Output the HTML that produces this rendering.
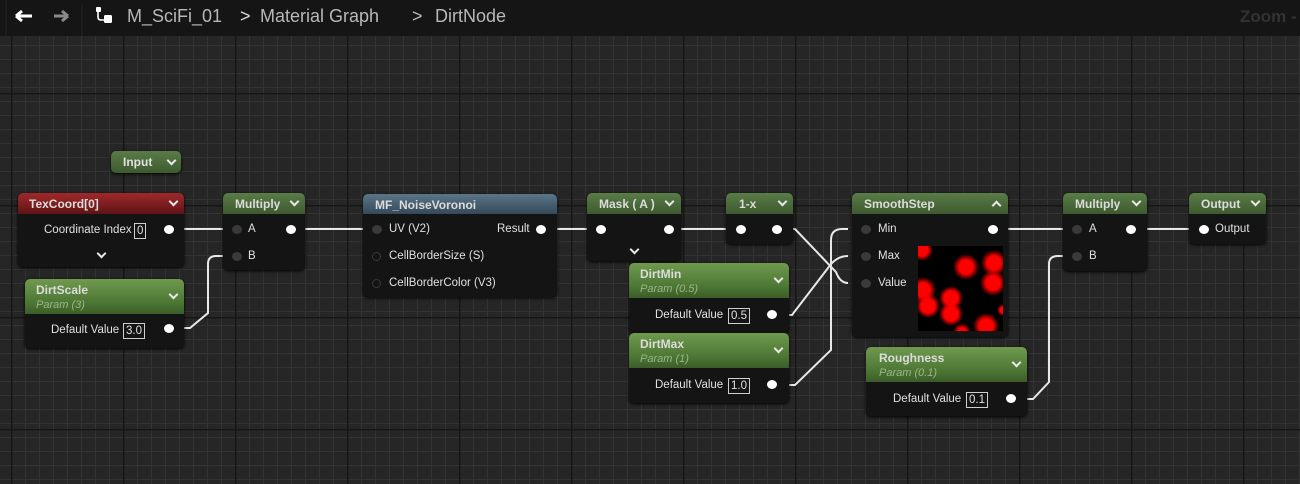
<!DOCTYPE html>
<html><head><meta charset="utf-8"><style>
body{margin:0;width:1300px;height:484px;overflow:hidden;background:#262626;font-family:"Liberation Sans",sans-serif;}
#bg{position:absolute;left:0;top:36px;width:1300px;height:448px;
background-image:
linear-gradient(to right,#161616 1.5px,transparent 1.5px),
linear-gradient(to bottom,#161616 1.5px,transparent 1.5px),
linear-gradient(to right,#333 1px,transparent 1px),
linear-gradient(to bottom,#333 1px,transparent 1px);
background-size:112px 112px,112px 112px,14px 14px,14px 14px;
background-position:11px 57px,11px 57px,11px 9px,11px 9px;}
#top{position:absolute;left:0;top:0;width:1300px;height:36px;background:#151515;}
.n{position:absolute;background:#141414;border-radius:5px;box-shadow:0 1px 3px #000;color:#e0e0e0;font-size:11.5px;}
.h{position:absolute;left:0;top:0;right:0;border-radius:5px 5px 0 0;font-weight:bold;font-size:12px;color:#dcdcdc;}
.g{background:linear-gradient(to bottom,#5a7c47,#3d5a2f);}
.g2{background:linear-gradient(to bottom,#6f9a4e,#4b7533 70%,#3b5c28);}
.t{position:absolute;white-space:nowrap;}
.pin{position:absolute;width:10px;height:9px;border-radius:50%;background:#fff;}
.pd{position:absolute;width:10px;height:9px;border-radius:50%;background:#3a3a3a;}
.po{position:absolute;width:7px;height:7px;border-radius:50%;border:1px solid #3a3a3a;}
.box{position:absolute;border:1px solid #cfcfcf;padding:0 2px;font-size:11.5px;line-height:14px;}
.chev{position:absolute;width:5px;height:5px;border-right:2px solid #e8e8e8;border-bottom:2px solid #e8e8e8;transform:rotate(45deg);}
.sub{font-weight:normal;font-style:italic;color:#9cb48a;font-size:11px;}
.bc{position:absolute;top:6px;font-size:18px;color:#b8b8b8;white-space:nowrap;}
</style></head><body>
<div id="bg"></div>
<div id="top">
<svg width="1300" height="36" style="position:absolute;left:0;top:0">
<path d="M16 16 h16 M16 16 l6 -5 M16 16 l6 5" stroke="#fff" stroke-width="3" fill="none"/>
<path d="M54 16 h14 M68 16 l-6 -5 M68 16 l-6 5" stroke="#8a8a8a" stroke-width="3" fill="none"/>
<rect x="96" y="7" width="5" height="5" rx="1" fill="#fff"/><path d="M98 12 v5 q0 3 3 3 h3" stroke="#fff" stroke-width="1.6" fill="none"/><rect x="104" y="15" width="8" height="8" rx="1.5" fill="#fff"/>
<line x1="82" y1="4" x2="82" y2="36" stroke="#222" /><line x1="6" y1="0" x2="6" y2="36" stroke="#222"/>
</svg>
<div class="bc" style="left:127px">M_SciFi_01</div>
<div class="bc" style="left:240px;color:#ddd">&gt;</div>
<div class="bc" style="left:260px">Material Graph</div>
<div class="bc" style="left:412px">&gt;</div>
<div class="bc" style="left:435px">DirtNode</div>
<div class="t" style="left:1240px;top:7px;font-size:17px;font-weight:bold;color:#333">Zoom -</div>
</div>

<svg width="1300" height="484" style="position:absolute;left:0;top:0" fill="none" stroke="#e8e8e8" stroke-width="2">
<path d="M172 229 H235"/>
<path d="M172 328 H190 L208 313 V264 Q208 256 216 256 H235"/>
<path d="M294 229 H375"/>
<path d="M544 229 H598"/>
<path d="M668 229 H738"/>
<path d="M780 229 H795 L836 272 Q840 283 848 283"/>
<path d="M775 315 H792 L828 268 Q836 256 848 256"/>
<path d="M775 385 H795 L831 350 V240 Q831 229 842 229 H848"/>
<path d="M995 229 H1075"/>
<path d="M1012 399 H1033 L1049 382 V264 Q1049 256 1058 256 H1075"/>
<path d="M1133 229 H1203"/>
</svg>

<!-- Input -->
<div class="n g" style="left:111px;top:151px;width:70px;height:22px;background:linear-gradient(#5a7c47,#3d5a2f)"><div class="t" style="left:12px;top:4px;font-weight:bold;font-size:12px">Input</div><div class="chev" style="left:57px;top:6px"></div></div>

<!-- TexCoord -->
<div class="n" style="left:18px;top:193px;width:166px;height:74px">
<div class="h" style="height:21px;background:linear-gradient(#a0282a,#5e1416)"><div class="t" style="left:11px;top:4px">TexCoord[0]</div><div class="chev" style="left:152px;top:5px"></div></div>
<div class="t" style="left:26px;top:31px">Coordinate Index</div><div class="box" style="left:116px;top:30px">0</div>
<div class="pin" style="left:146px;top:32px"></div>
<div class="chev" style="left:80px;top:57px"></div>
</div>

<!-- DirtScale -->
<div class="n" style="left:25px;top:279px;width:159px;height:69px">
<div class="h g2" style="height:35px"><div class="t" style="left:11px;top:4px">DirtScale<br><span class="sub">Param (3)</span></div><div class="chev" style="left:145px;top:12px"></div></div>
<div class="t" style="left:26px;top:45px">Default Value</div><div class="box" style="left:98px;top:44px">3.0</div>
<div class="pin" style="left:139px;top:45px"></div>
</div>

<!-- Multiply 1 -->
<div class="n" style="left:223px;top:193px;width:82px;height:77px">
<div class="h g" style="height:21px"><div class="t" style="left:12px;top:4px">Multiply</div><div class="chev" style="left:68px;top:5px"></div></div>
<div class="pd" style="left:9px;top:32px"></div><div class="t" style="left:25px;top:30px">A</div>
<div class="pd" style="left:9px;top:59px"></div><div class="t" style="left:25px;top:57px">B</div>
<div class="pin" style="left:63px;top:32px"></div>
</div>

<!-- MF_NoiseVoronoi -->
<div class="n" style="left:363px;top:194px;width:194px;height:103px">
<div class="h" style="height:20px;background:linear-gradient(#5b7688,#34495a)"><div class="t" style="left:12px;top:4px">MF_NoiseVoronoi</div></div>
<div class="pd" style="left:9px;top:31px"></div><div class="t" style="left:26px;top:29px">UV (V2)</div>
<div class="po" style="left:9px;top:58px"></div><div class="t" style="left:26px;top:56px">CellBorderSize (S)</div>
<div class="po" style="left:9px;top:85px"></div><div class="t" style="left:26px;top:83px">CellBorderColor (V3)</div>
<div class="t" style="left:134px;top:29px">Result</div><div class="pin" style="left:173px;top:31px"></div>
</div>

<!-- Mask -->
<div class="n" style="left:587px;top:193px;width:94px;height:68px">
<div class="h g" style="height:21px"><div class="t" style="left:12px;top:4px">Mask ( A )</div><div class="chev" style="left:79px;top:5px"></div></div>
<div class="pin" style="left:9px;top:32px"></div><div class="pin" style="left:77px;top:32px"></div>
<div class="chev" style="left:44px;top:53px"></div>
</div>

<!-- 1-x -->
<div class="n" style="left:726px;top:193px;width:67px;height:51px">
<div class="h g" style="height:21px"><div class="t" style="left:13px;top:4px">1-x</div><div class="chev" style="left:53px;top:5px"></div></div>
<div class="pin" style="left:10px;top:32px"></div><div class="pin" style="left:46px;top:32px"></div>
</div>

<!-- DirtMin -->
<div class="n" style="left:629px;top:263px;width:160px;height:70px">
<div class="h g2" style="height:35px"><div class="t" style="left:11px;top:4px">DirtMin<br><span class="sub">Param (0.5)</span></div><div class="chev" style="left:146px;top:12px"></div></div>
<div class="t" style="left:26px;top:46px">Default Value</div><div class="box" style="left:99px;top:45px">0.5</div>
<div class="pin" style="left:138px;top:47px"></div>
</div>

<!-- DirtMax -->
<div class="n" style="left:629px;top:333px;width:160px;height:70px">
<div class="h g2" style="height:35px"><div class="t" style="left:11px;top:4px">DirtMax<br><span class="sub">Param (1)</span></div><div class="chev" style="left:146px;top:12px"></div></div>
<div class="t" style="left:26px;top:46px">Default Value</div><div class="box" style="left:99px;top:45px">1.0</div>
<div class="pin" style="left:138px;top:47px"></div>
</div>

<!-- SmoothStep -->
<div class="n" style="left:852px;top:193px;width:156px;height:144px">
<div class="h g" style="height:21px"><div class="t" style="left:12px;top:4px">SmoothStep</div><div class="chev" style="left:141px;top:9px;transform:rotate(-135deg)"></div></div>
<div class="pd" style="left:9px;top:32px"></div><div class="t" style="left:26px;top:30px">Min</div>
<div class="pd" style="left:9px;top:59px"></div><div class="t" style="left:26px;top:57px">Max</div>
<div class="pd" style="left:9px;top:86px"></div><div class="t" style="left:26px;top:84px">Value</div>
<div class="pin" style="left:136px;top:32px"></div>
<div style="position:absolute;left:66px;top:53px;width:85px;height:85px;background:
radial-gradient(circle at 4px 4px,#f00 6px,transparent 11px),
radial-gradient(circle at 48px 21px,#f00 7px,transparent 13px),
radial-gradient(circle at 76px 17px,#f00 7px,transparent 13px),
radial-gradient(circle at 75px 37px,#f00 7px,transparent 13px),
radial-gradient(circle at 5px 44px,#f00 7px,transparent 13px),
radial-gradient(circle at 10px 60px,#f00 7px,transparent 12px),
radial-gradient(circle at 33px 52px,#f00 7px,transparent 12px),
radial-gradient(circle at 33px 68px,#f00 7px,transparent 12px),
radial-gradient(circle at 68px 80px,#f00 7px,transparent 13px),
radial-gradient(circle at 85px 64px,#f00 3px,transparent 6px),
radial-gradient(circle at 44px 86px,#f00 4px,transparent 9px),#000"></div>
</div>

<!-- Roughness -->
<div class="n" style="left:866px;top:347px;width:161px;height:69px">
<div class="h g2" style="height:35px"><div class="t" style="left:13px;top:4px">Roughness<br><span class="sub">Param (0.1)</span></div><div class="chev" style="left:147px;top:12px"></div></div>
<div class="t" style="left:27px;top:46px">Default Value</div><div class="box" style="left:100px;top:45px">0.1</div>
<div class="pin" style="left:140px;top:47px"></div>
</div>

<!-- Multiply 2 -->
<div class="n" style="left:1063px;top:193px;width:84px;height:78px">
<div class="h g" style="height:21px"><div class="t" style="left:12px;top:4px">Multiply</div><div class="chev" style="left:70px;top:5px"></div></div>
<div class="pd" style="left:9px;top:32px"></div><div class="t" style="left:26px;top:30px">A</div>
<div class="pd" style="left:9px;top:59px"></div><div class="t" style="left:26px;top:57px">B</div>
<div class="pin" style="left:63px;top:32px"></div>
</div>

<!-- Output -->
<div class="n" style="left:1189px;top:193px;width:77px;height:51px">
<div class="h g" style="height:21px"><div class="t" style="left:12px;top:4px">Output</div><div class="chev" style="left:63px;top:5px"></div></div>
<div class="pin" style="left:10px;top:32px"></div><div class="t" style="left:26px;top:30px">Output</div>
</div>
</body></html>
